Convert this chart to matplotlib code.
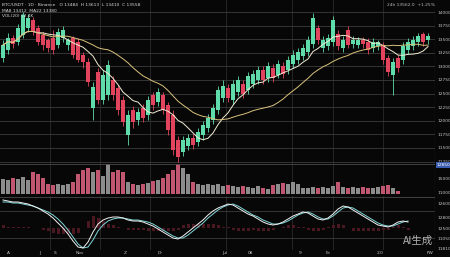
import numpy as np
import pandas as pd
import matplotlib
matplotlib.use("Agg")
import matplotlib.pyplot as plt

# daily candles (price units)
opens = [13153, 13300, 13521, 13447, 13576, 13705, 13852, 13705, 13576, 13484,
         13521, 13392, 13521, 13392, 13521, 13447, 13208, 13079, 12233, 12895,
         12380, 12472, 12748, 12601, 12380, 11736, 12196, 12012, 12233, 12104,
         12472, 12343, 12472, 12288, 12104, 11644, 11423, 11534, 11681, 11607,
         11736, 11865, 12012, 12196, 12417, 12601, 12380, 12527, 12674, 12564,
         12674, 12748, 12932, 12785, 12969, 12840, 13006, 12932, 13042, 13116,
         13190, 13263, 13410, 13705, 13337, 13374, 13447, 13594, 13337, 13668,
         13410, 13392, 13484, 13447, 13337, 13374, 13392, 13153, 12840, 13153,
         13116, 13300, 13374, 13447, 13594, 13484]
highs = [13484, 13613, 13576, 13778, 13999, 13962, 13907, 13760, 13631, 13521,
         13668, 13705, 13742, 13521, 13558, 13521, 13263, 13153, 12711, 12969,
         12932, 13116, 12822, 12656, 12454, 12196, 12270, 12233, 12306, 12454,
         12527, 12601, 12527, 12343, 12196, 11718, 11718, 11754, 11754, 11865,
         11994, 12122, 12306, 12638, 12748, 12674, 12748, 12822, 12748, 12895,
         12932, 13006, 13006, 13079, 13042, 13116, 13079, 13190, 13300, 13337,
         13410, 13558, 13981, 13760, 13558, 13594, 13926, 13668, 13558, 13742,
         13558, 13539, 13539, 13521, 13521, 13484, 13447, 13208, 13153, 13208,
         13447, 13521, 13558, 13613, 13631, 13613]
lows = [13079, 13226, 13337, 13392, 13521, 13631, 13576, 13392, 13300, 13263,
        13226, 13337, 13447, 13300, 13153, 13079, 12969, 12638, 12012, 12306,
        12306, 12380, 12380, 12104, 11902, 11552, 11865, 11920, 11975, 12012,
        12196, 12270, 12122, 11736, 11368, 11239, 11350, 11460, 11478, 11534,
        11644, 11791, 11938, 12122, 12343, 12343, 12306, 12454, 12417, 12490,
        12601, 12674, 12674, 12711, 12711, 12785, 12785, 12858, 12969, 13042,
        13116, 13190, 13337, 13410, 13263, 13300, 13374, 13300, 13263, 13337,
        13337, 13337, 13337, 13226, 13263, 13300, 13042, 12822, 12472, 12895,
        13042, 13226, 13300, 13374, 13374, 13410]
closes = [13392, 13521, 13410, 13705, 13944, 13889, 13631, 13447, 13392, 13337,
          13300, 13631, 13668, 13484, 13208, 13116, 13079, 12711, 12619, 12380,
          12840, 13024, 12472, 12196, 11975, 12104, 11975, 12159, 12049, 12380,
          12288, 12527, 12196, 11828, 11460, 11331, 11644, 11681, 11552, 11791,
          11920, 12049, 12233, 12564, 12638, 12417, 12674, 12748, 12490, 12822,
          12858, 12932, 12748, 13006, 12785, 13042, 12858, 13116, 13208, 13263,
          13337, 13484, 13889, 13484, 13484, 13521, 13852, 13374, 13484, 13392,
          13484, 13484, 13410, 13300, 13447, 13447, 13116, 12895, 13079, 12969,
          13374, 13447, 13484, 13558, 13447, 13558]
volumes = [15, 14, 16, 15, 17, 14, 22, 20, 16, 10, 9, 10, 9, 10, 12, 20, 24, 26,
           22, 24, 18, 30, 22, 24, 22, 12, 10, 9, 10, 11, 13, 14, 16, 20, 24, 30,
           26, 20, 12, 10, 9, 10, 9, 10, 8, 9, 8, 7, 8, 7, 6, 8, 6, 5, 9, 10, 11,
           10, 12, 10, 6, 6, 7, 6, 7, 6, 8, 12, 7, 6, 7, 6, 7, 6, 6, 7, 8, 9, 6,
           3, 0, 0, 0, 0, 0, 0]
nan = np.nan
macd_line = [23, 22, 21, 21, 20, 19, 17, 15, 12, 9, 5, 0, -5, -11, -18, -24, -25,
             -19, -9, -1, 3, 5, 6, 6, 5, 3, 2, 2, 1, -1, -3, -6, -9, -12, -15,
             -16, -13, -9, -5, -1, 3, 8, 12, 15, 17, 19, 18, 15, 12, 9, 7, 4, 1,
             -1, -2, -1, 1, 4, 7, 9, 11, 10, 7, 4, 3, 5, 9, 14, 17, 16, 13, 10, 7,
             4, 1, -2, -3, -4, -2, 1, 2, 1, nan, nan, nan, nan]
signal_line = [21, 21, 20, 20, 19, 18, 17, 15, 13, 11, 8, 4, -1, -7, -14, -21,
               -25, -24, -17, -8, -2, 2, 4, 5, 5, 4, 3, 3, 2, 1, -1, -4, -7, -10,
               -13, -15, -15, -12, -8, -4, 0, 5, 9, 13, 16, 18, 19, 17, 14, 11, 8,
               6, 3, 1, -1, -1, 0, 2, 5, 8, 10, 11, 9, 6, 4, 4, 7, 11, 15, 16, 15,
               12, 9, 6, 3, 0, -2, -3, -3, -1, 1, 2, nan, nan, nan, nan]

price_ticks = list(range(11250, 14001, 250))
vol_ticks = [2, 16]
vol_tick_labels = ['11000', '15000']
macd_ticks = [20, 6, -5, -15, -25]
macd_tick_labels = ['12600', '12800', '12500', '11050', '11810']
x_tick_pos = [1, 7.4, 10.4, 15.4, 24.4, 31.4, 44.4, 49.4, 59.4, 65, 75.4, 85.4]
x_tick_labels = ['A', 'J', 'S', 'Nov', 'Z', 'Dr', 'Jul', '08', '9', 'Fe', '2.0', 'FW']
vgrid_pos = [9.4, 19.4, 29.4, 44.6, 57.8, 66, 76]

bg = '#070707'
green = '#5fdcaa'
red = '#e2445e'
grid_c = '#3c3c3c'
lab_c = '#c4c4c4'

o = np.array(opens)
c = np.array(closes)
idx = np.arange(len(c))
up = c >= o
cols = np.where(up, green, red)

fig = plt.figure(figsize=(4.5, 2.57), dpi=100, facecolor=bg)
ax = fig.add_axes([0, 0.3658, 0.9667, 0.6342])
axv = fig.add_axes([0, 0.245, 0.9667, 0.1206], sharex=ax)
axm = fig.add_axes([0, 0.0272, 0.9667, 0.2101], sharex=ax)

for a in (ax, axv, axm):
    a.set_facecolor(bg)
    for s in a.spines.values():
        s.set_visible(False)
    a.tick_params(axis='both', length=0, labelsize=3.2, labelcolor=lab_c, pad=1.5)
    a.yaxis.tick_right()
    for xv in vgrid_pos:
        a.axvline(xv, color='#2a2a2a', lw=0.6, zorder=0)

# candles
ax.vlines(idx, lows, highs, color=cols, lw=0.6, zorder=2)
ax.bar(idx, np.where(np.abs(c - o) < 15, 15, c - o), bottom=o, width=0.62,
       color=cols, zorder=3)

ma_fast = pd.Series(closes).rolling(8, min_periods=1).mean()
ma_slow = pd.Series(closes).rolling(22, min_periods=1).mean()
ax.plot(idx, ma_fast, color='#f1ecd2', lw=0.7, zorder=4)
ax.plot(idx, ma_slow, color='#d9c27c', lw=0.7, zorder=4)

ax.set_xlim(-0.6, 86.4)
ax.set_ylim(11224, 14221)
ax.set_yticks(price_ticks)
ax.set_yticklabels([str(p) for p in price_ticks])
ax.grid(axis='y', color=grid_c, lw=0.6)
ax.tick_params(labelbottom=False)
ax.axvline(86.4, color='#555555', lw=0.8)

# volume
vcols = np.where(up, '#8c8c8c', '#c0566f')
axv.bar(idx, volumes, width=0.75, color=vcols, zorder=2)
axv.set_ylim(0, 31)
axv.set_yticks(vol_ticks)
axv.set_yticklabels(vol_tick_labels)
axv.axhline(30.5, color='#4a4a4a', lw=0.6)
axv.axhline(0.2, color='#9a9a9a', lw=0.7)
axv.tick_params(labelbottom=False)
axv.axvline(86.4, color='#555555', lw=0.8)

# macd panel
m = np.array(macd_line, dtype=float)
sg = np.array(signal_line, dtype=float)
axm.bar(idx, (m - sg) * 1.5, bottom=-5, width=0.6, color='#4a1820', zorder=1)
axm.plot(idx, sg, color='#7fd6d8', lw=0.7, zorder=3)
axm.plot(idx, m, color='#f2f2f2', lw=0.7, zorder=4)
axm.set_ylim(-27, 27)
axm.set_yticks(macd_ticks)
axm.set_yticklabels(macd_tick_labels)
axm.axhline(26.5, color='#4a4a4a', lw=0.6)
axm.axhline(12, color=grid_c, lw=0.6, zorder=0)
axm.axhline(-15, color=grid_c, lw=0.6, zorder=0)
axm.axhline(-26.8, color='#777777', lw=0.6)
axm.set_xticks(x_tick_pos)
axm.set_xticklabels(x_tick_labels)
axm.tick_params(axis='x', pad=0.8)
axm.axvline(86.4, color='#555555', lw=0.8)

# header text and price tag
fig.text(0.005, 0.988, 'BTC/USDT · 1D · Binance   O 13484  H 13613  L 13410  C 13558',
         fontsize=3.2, color='#d8d8d8', va='top')
fig.text(0.005, 0.966, 'MA8 13412  MA22 13380', fontsize=3.2, color='#d8d8d8', va='top')
fig.text(0.005, 0.944, 'VOL(20) 12.4K', fontsize=3.2, color='#d8d8d8', va='top')
fig.text(0.86, 0.988, '24h 13562.0  +1.25%', fontsize=3.2, color='#bdbdbd', va='top')
fig.text(0.9711, 1 - 165 / 257, '12850', fontsize=3.2, color='white', va='center',
         bbox=dict(facecolor='#3a5cb0', edgecolor='none', pad=0.5))

fig.text(0.962, 0.045, 'AI生成', fontsize=7.5, color='#d0d0d0', alpha=0.85,
         ha='right', va='bottom', family=['Noto Sans CJK SC', 'DejaVu Sans'])

fig.savefig('out.png', dpi=100, facecolor=bg)
